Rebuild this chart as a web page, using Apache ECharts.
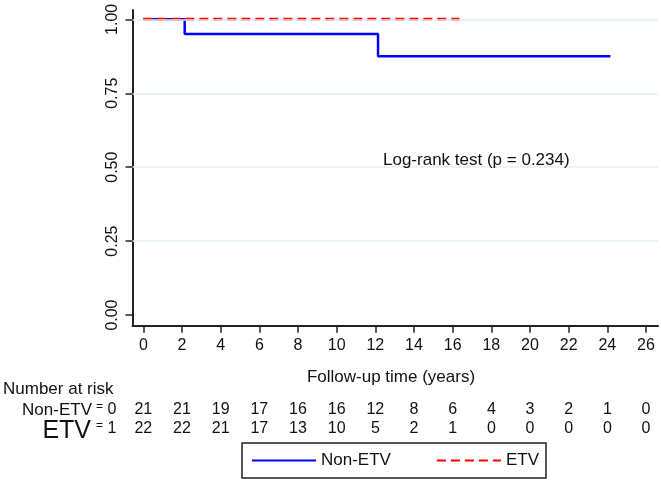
<!DOCTYPE html>
<html>
<head>
<meta charset="utf-8">
<script src="https://cdn.jsdelivr.net/npm/echarts@6/dist/echarts.min.js"></script>
<style>
  html, body { margin: 0; padding: 0; background: #fff; }
  #chart { width: 661px; height: 480px; }
</style>
</head>
<body>
<div id="chart"></div>
<script>
// x ticks (years) and survival ticks
const xTicks = [0, 2, 4, 6, 8, 10, 12, 14, 16, 18, 20, 22, 24, 26];
const yTicks = [0, 0.25, 0.5, 0.75, 1];
const gridValues = [0.25, 0.5, 0.75, 1];

// Kaplan-Meier steps [time, survival]
const nonEtvSteps = [[0, 1], [2.14, 0.95], [12.14, 0.875], [24.16, 0.875]];
const etvSteps = [[0, 1], [16.35, 1]];

// number at risk, one value per x tick
const riskNonETV = [21, 21, 19, 17, 16, 16, 12, 8, 6, 4, 3, 2, 1, 0];
const riskETV = [22, 22, 21, 17, 13, 10, 5, 2, 1, 0, 0, 0, 0, 0];

const FONT = "'Liberation Sans', Arial, sans-serif";
const TXT = "#111";

const chart = echarts.init(document.getElementById("chart"), null, { renderer: "canvas" });

const option = {
  animation: false,
  backgroundColor: "#fff",
  grid: { left: 132.5, right: 3, top: 10, bottom: 154.3, containLabel: false },
  xAxis: {
    type: "value",
    min: -0.56,
    max: 26.62,
    axisLine: { onZero: false, lineStyle: { color: "#222", width: 2 } },
    axisTick: { customValues: xTicks, length: 7, lineStyle: { color: "#222", width: 1.5 } },
    axisLabel: { customValues: xTicks, margin: 12, color: TXT, fontSize: 16, fontFamily: FONT },
    splitLine: { show: false },
  },
  yAxis: {
    type: "value",
    min: -0.036,
    max: 1.0315,
    axisLine: { show: true, onZero: false, lineStyle: { color: "#222", width: 2 } },
    axisTick: { show: true, customValues: yTicks, length: 7, lineStyle: { color: "#222", width: 1.5 } },
    axisLabel: {
      customValues: yTicks,
      rotate: 90,
      margin: 12,
      color: TXT,
      fontSize: 16,
      fontFamily: FONT,
      formatter: (v) => v.toFixed(2),
    },
    splitLine: { show: false },
  },
  legend: {
    data: ["Non-ETV", "ETV"],
    left: 242,
    top: 443,
    orient: "horizontal",
    padding: [9, 7, 9, 9],
    itemWidth: 64,
    itemHeight: 14,
    itemGap: 45,
    borderColor: "#222",
    borderWidth: 1.5,
    borderRadius: 0,
    itemStyle: { opacity: 0 },
    textStyle: { color: TXT, fontSize: 17, fontFamily: FONT },
  },
  series: [
    {
      name: "grid",
      type: "line",
      data: [],
      z: 1,
      silent: true,
      markLine: {
        silent: true,
        symbol: ["none", "none"],
        label: { show: false },
        lineStyle: { color: "#e6eff0", width: 1.5, type: "solid" },
        data: gridValues.map((v) => ({ yAxis: v })),
      },
    },
    {
      name: "Non-ETV",
      type: "line",
      step: "end",
      symbol: "none",
      data: nonEtvSteps,
      lineStyle: { color: "#0000ff", width: 2.5 },
      itemStyle: { color: "#0000ff" },
      z: 3,
    },
    {
      name: "ETV",
      type: "line",
      symbol: "none",
      data: etvSteps,
      lineStyle: { color: "#ff0000", width: 3, type: [9, 5] },
      itemStyle: { color: "#ff0000" },
      z: 4,
    },
  ],
};

chart.setOption(option);

// number-at-risk table and annotations, placed with the x axis scale
const txt = (x, y, text, size, align) => ({
  type: "text",
  x: x,
  y: y,
  z: 100,
  silent: true,
  style: {
    text: text,
    fill: TXT,
    font: size + "px " + FONT,
    textAlign: align || "left",
    textVerticalAlign: "middle",
  },
});

const graphic = [];
graphic.push(txt(383, 160, "Log-rank test (p = 0.234)", 17));
graphic.push(txt(391, 377, "Follow-up time (years)", 17, "center"));
graphic.push(txt(3, 389, "Number at risk", 17));
graphic.push(txt(92, 410, "Non-ETV", 17, "right"));
graphic.push(txt(91, 431, "ETV", 25, "right"));
graphic.push(txt(99.5, 407, "=", 12, "center"));
graphic.push(txt(112, 410, "0", 16, "center"));
graphic.push(txt(99.5, 426, "=", 12, "center"));
graphic.push(txt(112, 429, "1", 16, "center"));

xTicks.forEach((t, i) => {
  const px = chart.convertToPixel({ xAxisIndex: 0 }, t);
  graphic.push(txt(px, 410, String(riskNonETV[i]), 16, "center"));
  graphic.push(txt(px, 429, String(riskETV[i]), 16, "center"));
});

chart.setOption({ graphic: graphic });
</script>
</body>
</html>
